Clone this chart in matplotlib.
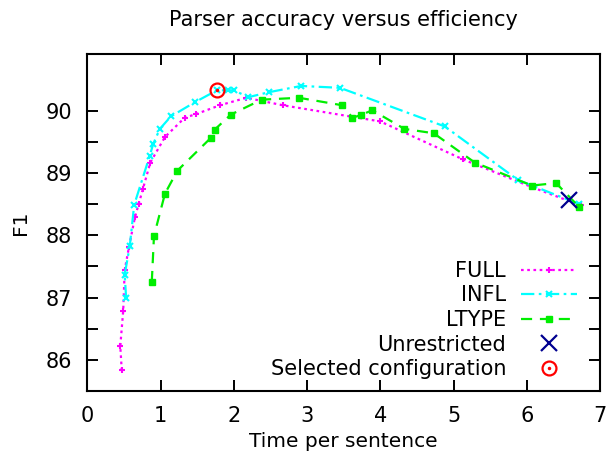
import matplotlib
matplotlib.use("Agg")
import matplotlib.pyplot as plt
from matplotlib.legend_handler import HandlerTuple

# FULL
full_t = [0.47, 0.45, 0.49, 0.51, 0.57, 0.65, 0.70, 0.76, 0.86, 1.06, 1.33, 1.49, 1.81, 2.17, 2.67, 4.0, 5.13, 6.08, 6.74]
full_f1 = [85.83, 86.22, 86.79, 87.44, 87.82, 88.29, 88.5, 88.75, 89.17, 89.58, 89.89, 89.95, 90.09, 90.21, 90.09, 89.83, 89.22, 88.77, 88.48]

# INFL
infl_t = [0.53, 0.51, 0.58, 0.64, 0.85, 0.90, 0.99, 1.14, 1.47, 1.77, 1.92, 2.0, 2.2, 2.48, 2.92, 3.45, 4.88, 5.88, 6.72]
infl_f1 = [86.99, 87.37, 87.83, 88.49, 89.27, 89.47, 89.71, 89.91, 90.14, 90.33, 90.33, 90.33, 90.22, 90.30, 90.40, 90.37, 89.75, 88.89, 88.5]

# LTYPE
ltype_t = [0.88, 0.91, 1.06, 1.23, 1.69, 1.74, 1.96, 2.38, 2.89, 3.48, 3.62, 3.73, 3.89, 4.33, 4.73, 5.29, 6.07, 6.4, 6.72]
ltype_f1 = [87.25, 87.99, 88.67, 89.04, 89.57, 89.7, 89.94, 90.18, 90.21, 90.09, 89.89, 89.93, 90.01, 89.71, 89.64, 89.17, 88.8, 88.84, 88.45]

unres_t, unres_f1 = [6.58], [88.57]
sel_t, sel_f1 = [1.77], [90.33]

plt.rcParams['font.family'] = 'DejaVu Sans'
plt.rcParams['font.size'] = 15

fig = plt.figure(figsize=(6.15, 4.66), dpi=100)
ax = fig.add_axes([0.142, 0.161, 0.8336, 0.724])

ax.plot(full_t, full_f1, color='#ff00ff', linestyle=(0, (1.2, 1.6)), lw=1.6,
        marker='+', ms=5, mew=1.5, label='FULL')
ax.plot(infl_t, infl_f1, color='#00ffff', linestyle=(0, (6, 2, 1.2, 2)), lw=1.6,
        marker='x', ms=4.5, mew=1.5, label='INFL')
ax.plot(ltype_t, ltype_f1, color='#00ee00', linestyle=(0, (5, 3.5)), lw=1.6,
        marker='s', ms=4.5, label='LTYPE')
hx, = ax.plot(unres_t, unres_f1, linestyle='none', marker='x', ms=11, mew=1.6,
              color='#000090', label='Unrestricted')
hc, = ax.plot(sel_t, sel_f1, linestyle='none', marker='o', ms=10, mew=1.6,
              mfc='none', color='red')
hd, = ax.plot(sel_t, sel_f1, linestyle='none', marker='.', ms=3, color='red')

ax.set_xlim(0, 7)
ax.set_ylim(85.5, 90.92)
ax.set_xticks(range(8))
ax.set_yticks([86, 86.5, 87, 87.5, 88, 88.5, 89, 89.5, 90])
ax.set_yticklabels(['86', '', '87', '', '88', '', '89', '', '90'])
ax.tick_params(direction='in', length=8, width=1.4, top=True, right=True,
               labelsize=15, pad=11)
for s in ax.spines.values():
    s.set_linewidth(1.5)

ax.set_xlabel('Time per sentence', fontsize=14.5, labelpad=4)
ax.set_ylabel('F1', fontsize=14.5, labelpad=11)
ax.set_title('Parser accuracy versus efficiency', fontsize=15, pad=20)

handles, labels = ax.get_legend_handles_labels()
handles.append((hc, hd))
labels.append('Selected configuration')
leg = ax.legend(handles, labels, loc='lower right', bbox_to_anchor=(0.955, 0.035),
                frameon=False, markerfirst=False, borderpad=0, borderaxespad=0,
                labelspacing=0.22, handlelength=2.7, handletextpad=0.7,
                handler_map={tuple: HandlerTuple(ndivide=1, pad=0)})

fig.savefig('out.png', dpi=100)
